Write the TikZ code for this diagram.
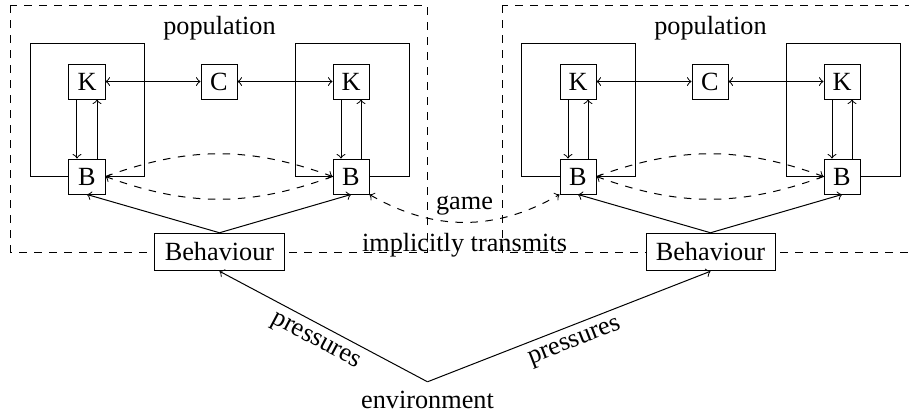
\documentclass[tikz,border=0pt]{standalone}
\usepackage{fontspec}
\setmainfont{Liberation Serif}
\begin{document}
\begin{tikzpicture}[x=0.4pt,y=-0.4pt,
  every node/.style={font=\fontsize{10.5}{12.6}\selectfont},
  sbox/.style={draw,fill=white,minimum width=14.4pt,minimum height=14pt,inner sep=0pt},
  behbox/.style={draw,fill=white,minimum width=51.6pt,minimum height=15pt,inner sep=0pt},
  link/.style={->},
  dlink/.style={<->},
  dashlink/.style={->,dashed}]
\useasboundingbox (0,0) rectangle (909,416);
% population frames
\draw[dashed] (11,5) rectangle (427,252);
\draw[dashed] (502,5) rectangle (918,252);
% inner agent frames
\draw (30,43) rectangle (144,176.5);
\draw (295,43) rectangle (409,176.5);
\draw (521,43) rectangle (635,176.5);
\draw (786,43) rectangle (900,176.5);
% labels
\node (popA) at (219.5,28) {population};
\node (popB) at (710.5,28) {population};
% nodes population A
\node[sbox] (Ka1) at (87,81.5) {K};
\node[sbox] (Ba1) at (87,176.5) {B};
\node[sbox] (Ca) at (219,81.5) {C};
\node[sbox] (Ka2) at (351,81.5) {K};
\node[sbox] (Ba2) at (351,176.5) {B};
\node[behbox] (BehA) at (219.5,252) {Behaviour};
% nodes population B
\node[sbox] (Kb1) at (578,81.5) {K};
\node[sbox] (Bb1) at (578,176.5) {B};
\node[sbox] (Cb) at (710,81.5) {C};
\node[sbox] (Kb2) at (842,81.5) {K};
\node[sbox] (Bb2) at (842,176.5) {B};
\node[behbox] (BehB) at (710.5,252) {Behaviour};
\node[anchor=base] (env) at (427.5,408) {environment};
% K/B links
\foreach \k/\b in {Ka1/Ba1,Ka2/Ba2,Kb1/Bb1,Kb2/Bb2}{
  \draw[link] ([xshift=-4pt]\k.south) -- ([xshift=-4pt]\b.north);
  \draw[link] ([xshift=4pt]\b.north) -- ([xshift=4pt]\k.south);
}
\draw[dlink] (Ka1) -- (Ca);
\draw[dlink] (Ca) -- (Ka2);
\draw[dlink] (Kb1) -- (Cb);
\draw[dlink] (Cb) -- (Kb2);
\draw[dashlink] (Ba1.east) to[bend left=20] (Ba2.west);
\draw[dashlink] (Ba2.west) to[bend left=20] (Ba1.east);
\draw[dashlink] (Bb1.east) to[bend left=20] (Bb2.west);
\draw[dashlink] (Bb2.west) to[bend left=20] (Bb1.east);
\draw[link] (BehA.north) -- (Ba1.south);
\draw[link] (BehA.north) -- (Ba2.south);
\draw[link] (BehB.north) -- (Bb1.south);
\draw[link] (BehB.north) -- (Bb2.south);
% game
\draw[<->,dashed] (Ba2.south east) to[bend right=30]
  node[above,inner sep=2.5pt] (game) {game}
  node[below,inner sep=4pt] (impl) {implicitly transmits} (Bb1.south west);
% environment pressures
\draw[link] (env.north) -- node[sloped,below] (prA) {pressures} (BehA.south);
\draw[link] (env.north) -- node[sloped,below] (prB) {pressures} (BehB.south);
\end{tikzpicture}
\end{document}
